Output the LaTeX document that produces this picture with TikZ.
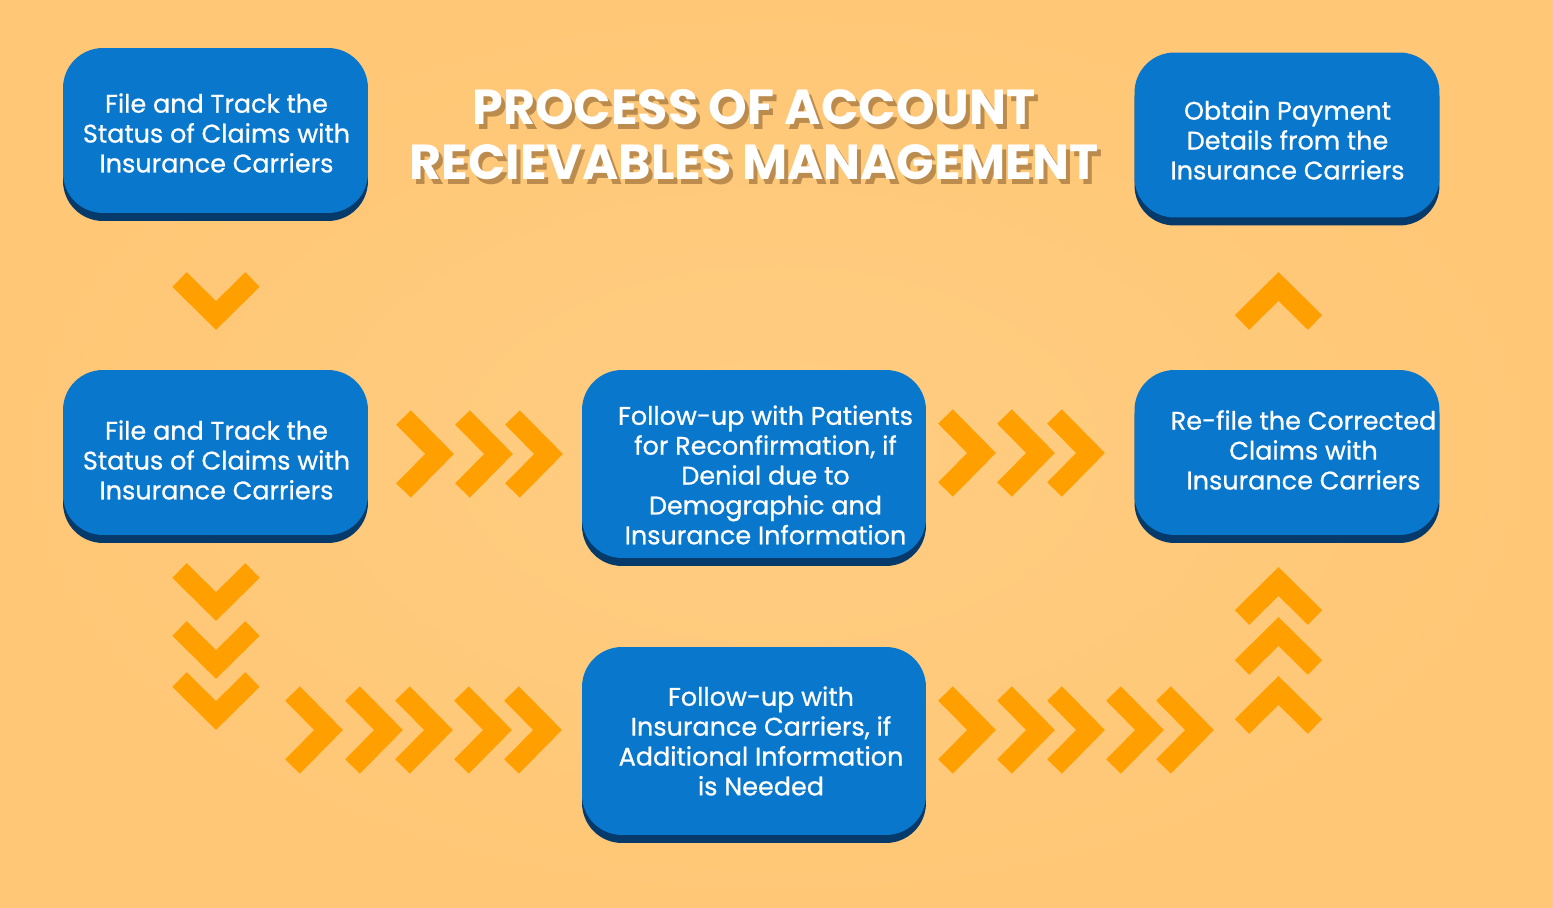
\documentclass[tikz,border=0pt]{standalone}
\usepackage{fontspec}
\setmainfont{Poppins}
\newfontfamily\boxfont{Poppins}[FakeBold=0.7]
\usetikzlibrary{shadows}
\definecolor{arBg}{HTML}{FFC776}
\definecolor{arBgLight}{HTML}{FFCD82}
\definecolor{arBlue}{HTML}{0877CC}
\definecolor{arNavy}{HTML}{053A6B}
\definecolor{arOrange}{HTML}{FFA000}
\definecolor{arShadow}{HTML}{6A4218}

\begin{document}
\begin{tikzpicture}[x=0.02cm, y=-0.02cm,
    box/.style={rounded corners=0.8cm, fill=arBlue, minimum width=6.1cm, minimum height=3.3cm,
        general shadow={fill=arNavy, shadow yshift=-0.16cm}},
    bigbox/.style={box, minimum width=6.88cm, minimum height=3.76cm},
    txt/.style={text=white, align=center, font=\boxfont\fontsize{14.5}{17}\selectfont},
    ttl/.style={align=center, font=\bfseries\fontsize{28}{31.3}\selectfont},
    chevstroke/.style={draw=arOrange, line width=0.41cm},
    chev/.pic={\draw[chevstroke] (-36,-36.5) -- (0,0) -- (-36,36.5);},
]
% background
\useasboundingbox (0,0) rectangle (1553,908);
\shade[inner color=arBgLight, outer color=arBg] (0,0) rectangle (1553,908);

% title with shadow
\node[ttl, text=arShadow, opacity=0.45] (titleshadow) at (758,140) {PROCESS OF ACCOUNT\\RECIEVABLES MANAGEMENT};
\node[ttl, text=white] (title) at (754,135) {PROCESS OF ACCOUNT\\RECIEVABLES MANAGEMENT};

% chevrons
\foreach \x in {439.5,498.5,548.5} \pic at (\x,454) {chev};
\foreach \x in {981.5,1040.5,1090.5} \pic at (\x,453) {chev};
\foreach \x in {328.5,388.5,438.5,497.5,547.5} \pic at (\x,730) {chev};
\foreach \x in {981.5,1040.5,1090.5,1149.5,1199.5} \pic at (\x,730) {chev};
\foreach \y in {315.5,606.5,664.5,715.5} \pic[rotate=-90] at (216,\y) {chev};
\foreach \y in {286.5,581.5,631.5,690.5} \pic[rotate=90] at (1278.5,\y) {chev};

% boxes
\node[box] (b1) at (215.5,130.5) {};
\node[box] (b2) at (215.5,452.5) {};
\node[bigbox] (b3) at (754,464) {};
\node[bigbox] (b4) at (754,741) {};
\node[box] (b5) at (1287,135) {};
\node[box] (b6) at (1287,452.5) {};

\node[txt] (t1) at (216.5,133) {File and Track the\\Status of Claims with\\Insurance Carriers};
\node[txt] (t2) at (216.5,460) {File and Track the\\Status of Claims with\\Insurance Carriers};
\node[txt] (t3) at (765.5,475) {Follow-up with Patients\\for Reconfirmation, if\\Denial due to\\Demographic and\\Insurance Information};
\node[txt] (t4) at (761,741) {Follow-up with\\Insurance Carriers, if\\Additional Information\\is Needed};
\node[txt] (t5) at (1287.5,140) {Obtain Payment\\Details from the\\Insurance Carriers};
\node[txt] (t6) at (1303.5,450) {Re-file the Corrected\\Claims with\\Insurance Carriers};
\end{tikzpicture}
\end{document}
